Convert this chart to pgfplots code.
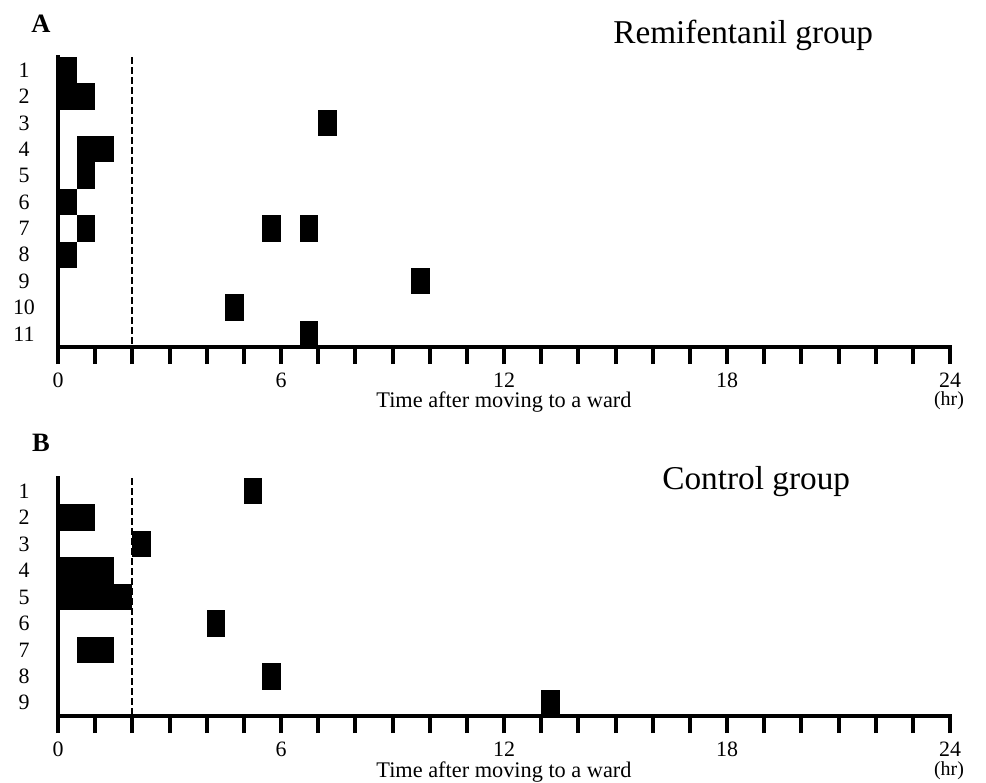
\documentclass[border=0pt]{standalone}
\usepackage{fontspec}
\setmainfont{Liberation Serif}
\usepackage{pgfplots}
\pgfplotsset{compat=1.18}
\pgfplotsset{
  blockaxis/.style={
    scale only axis, width=446bp,
    xmin=0, xmax=24, ymin=0.5,
    y dir=reverse,
    axis x line=bottom, axis y line=left,
    axis line style={-, line width=2.4bp, line cap=rect},
    xtick={0,6,12,18,24},
    minor xtick={1,2,3,4,5,7,8,9,10,11,13,14,15,16,17,19,20,21,22,23},
    tick align=outside,
    major tick length=8.5bp, minor tick length=8.5bp,
    tick style={line width=2bp, black},
    ytick style={draw=none},
    /pgf/number format/assume math mode=true,
    tick label style={font=\fontsize{11}{13}\selectfont},
    xticklabel style={anchor=base, yshift=-11.6bp},
    yticklabel style={anchor=center, xshift=-8.5bp},
    clip=false,
  },
  blk/.style={fill=black, draw=none},
  dash/.style={line width=1bp, dash pattern=on 3.3bp off 1.7bp},
}
% block: x start, x end, row top edge, row bottom edge
\newcommand{\blk}[4]{\addplot[blk] coordinates {(#1,#3) (#2,#3) (#2,#4) (#1,#4)};}
\begin{document}
\begin{tikzpicture}
\path[use as bounding box] (0,0) rectangle (493bp,-391.5bp);
\begin{axis}[blockaxis, at={(29bp,-173.5bp)}, anchor=south west,
  height=145bp, ymax=11.5, ytick={1,2,3,4,5,6,7,8,9,10,11}]
\addplot[dash] coordinates {(2,0.5) (2,11.5)};
\blk{0}{0.5}{0.5}{1.5}
\blk{0}{1}{1.5}{2.5}
\blk{7}{7.5}{2.5}{3.5}
\blk{0.5}{1.5}{3.5}{4.5}
\blk{0.5}{1}{4.5}{5.5}
\blk{0}{0.5}{5.5}{6.5}
\blk{0.5}{1}{6.5}{7.5}
\blk{5.5}{6}{6.5}{7.5}
\blk{6.5}{7}{6.5}{7.5}
\blk{0}{0.5}{7.5}{8.5}
\blk{9.5}{10}{8.5}{9.5}
\blk{4.5}{5}{9.5}{10.5}
\blk{6.5}{7}{10.5}{11.5}
\end{axis}
\begin{axis}[blockaxis, at={(29bp,-358bp)}, anchor=south west,
  height=119bp, ymax=9.5, ytick={1,2,3,4,5,6,7,8,9}]
\addplot[dash] coordinates {(2,0.5) (2,9.5)};
\blk{5}{5.5}{0.5}{1.5}
\blk{0}{1}{1.5}{2.5}
\blk{2}{2.5}{2.5}{3.5}
\blk{0}{1.5}{3.5}{4.5}
\blk{0}{2}{4.5}{5.5}
\blk{4}{4.5}{5.5}{6.5}
\blk{0.5}{1.5}{6.5}{7.5}
\blk{5.5}{6}{7.5}{8.5}
\blk{13}{13.5}{8.5}{9.5}
\end{axis}
\begin{scope}[x=0.5bp, y=-0.5bp]
\node[anchor=base, inner sep=0pt, font=\bfseries\fontsize{13.3}{16}\selectfont] at (41,32) {A};
\node[anchor=base, inner sep=0pt, font=\bfseries\fontsize{13.3}{16}\selectfont] at (41,451.7) {B};
\node[anchor=base west, inner sep=0pt, font=\fontsize{16.7}{20}\selectfont] at (613,43) {Remifentanil group};
\node[anchor=base west, inner sep=0pt, font=\fontsize{16.7}{20}\selectfont] at (662,490) {Control group};
\node[anchor=base, inner sep=0pt, font=\fontsize{11.2}{13}\selectfont] at (504,408) {Time after moving to a ward};
\node[anchor=base, inner sep=0pt, font=\fontsize{11.2}{13}\selectfont] at (504,778) {Time after moving to a ward};
\node[anchor=center, inner sep=0pt, font=\fontsize{10}{12}\selectfont] at (949,401) {(hr)};
\node[anchor=center, inner sep=0pt, font=\fontsize{10}{12}\selectfont] at (949,771) {(hr)};
\end{scope}
\end{tikzpicture}
\end{document}
